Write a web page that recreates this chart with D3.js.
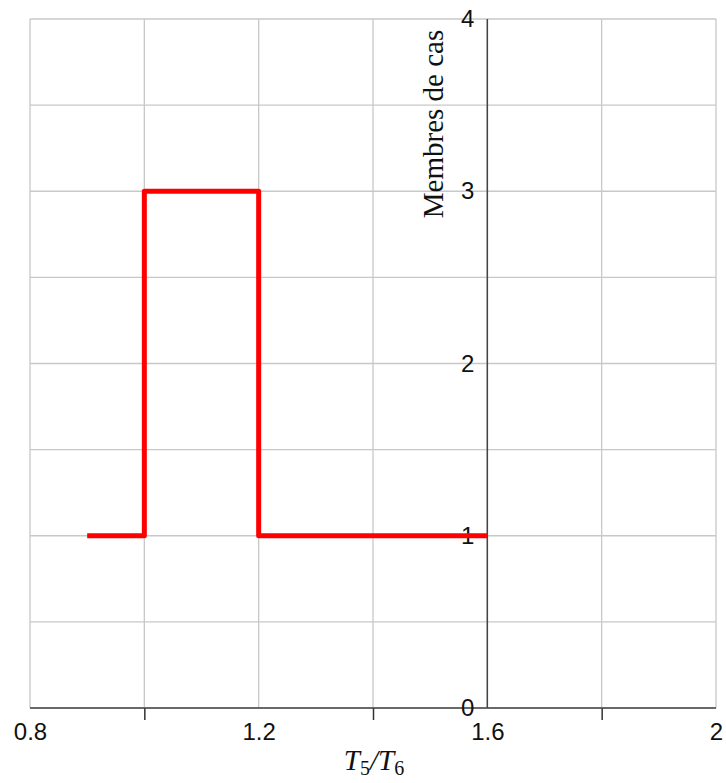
<!DOCTYPE html>
<html><head><meta charset="utf-8">
<script src="https://cdn.jsdelivr.net/npm/d3@7"></script>
<style>body{margin:0;background:#fff}</style>
</head><body>
<svg id="c" width="726" height="783"></svg>
<script>
const xs = [0.9, 1.0, 1.0, 1.2, 1.2, 1.6];
const ys = [1, 1, 3, 3, 1, 1];
const xLabelTicks = [0.8, 1.2, 1.6, 2.0];
const xMinorTicks = [1.0, 1.4, 1.8];
const xGrid = [0.8, 1.0, 1.2, 1.4, 1.6, 1.8, 2.0];
const yGrid = [0, 0.5, 1, 1.5, 2, 2.5, 3, 3.5, 4];
const yLabelTicks = [0, 1, 2, 3, 4];

const svg = d3.select("#c");
const x = d3.scaleLinear().domain([0.8, 2.0]).range([30, 716]);
const y = d3.scaleLinear().domain([0, 4]).range([708, 19]);
const y0 = y(0), xA = x(1.6);

// grid
svg.append("g").selectAll("line").data(xGrid).join("line")
  .attr("x1", d => x(d)).attr("x2", d => x(d)).attr("y1", y(4)).attr("y2", y0)
  .attr("stroke", "#c8c8c8").attr("stroke-width", 1.3);
svg.append("g").selectAll("line").data(yGrid).join("line")
  .attr("x1", x(0.8)).attr("x2", x(2.0)).attr("y1", d => y(d)).attr("y2", d => y(d))
  .attr("stroke", "#c8c8c8").attr("stroke-width", 1.3);

// x axis minor ticks
const gx = svg.append("g").attr("transform", `translate(0,${y0})`)
  .call(d3.axisBottom(x).tickValues(xMinorTicks).tickSize(12).tickFormat(""));
gx.select(".domain").remove();
gx.selectAll("line").attr("stroke", "#333").attr("stroke-width", 1.5);

// x labels
const gxl = svg.append("g").attr("transform", `translate(0,${y0})`)
  .call(d3.axisBottom(x).tickValues(xLabelTicks).tickSize(0).tickPadding(15)
    .tickFormat(d => d === 2 ? "2" : d3.format(".1f")(d)));
gxl.select(".domain").remove();
gxl.selectAll("text").attr("font-family", "Liberation Sans, Arial, sans-serif")
  .attr("font-size", 24).attr("fill", "#111");

// axis lines
svg.append("line").attr("x1", x(0.8)).attr("x2", x(2.0)).attr("y1", y0).attr("y2", y0)
  .attr("stroke", "#444").attr("stroke-width", 1.5);

// y axis labels at x=1.6
const gy = svg.append("g").attr("transform", `translate(${xA},0)`)
  .call(d3.axisLeft(y).tickValues(yLabelTicks).tickSize(0).tickPadding(13).tickFormat(d3.format("d")));
gy.select(".domain").remove();
gy.selectAll("text").attr("font-family", "Liberation Sans, Arial, sans-serif")
  .attr("font-size", 24).attr("fill", "#111");
svg.append("line").attr("x1", xA).attr("x2", xA).attr("y1", y(4)).attr("y2", y0)
  .attr("stroke", "#444").attr("stroke-width", 1.5);

// y title
svg.append("text").attr("transform", `translate(443,124) rotate(-90)`)
  .attr("text-anchor", "middle").attr("font-family", "Liberation Serif, Times New Roman, serif")
  .attr("font-size", 29).attr("fill", "#111").text("Membres de cas");

// x title T5/T6
const t = svg.append("text").attr("x", 374).attr("y", 770).attr("text-anchor", "middle")
  .attr("font-family", "Liberation Serif, Times New Roman, serif").attr("font-size", 29).attr("fill", "#111");
t.append("tspan").attr("font-style", "italic").text("T");
t.append("tspan").attr("font-size", 20).attr("dy", 5).text("5");
t.append("tspan").attr("dy", -5).attr("font-style", "italic").text("/T");
t.append("tspan").attr("font-size", 20).attr("dy", 5).text("6");

// step line
const pts = xs.map((v, i) => [v, ys[i]]);
svg.append("path").datum(pts)
  .attr("d", d3.line().x(d => x(d[0])).y(d => y(d[1])))
  .attr("fill", "none").attr("stroke", "#ff0000").attr("stroke-width", 5)
  .attr("stroke-linejoin", "round");
</script>
</body></html>
